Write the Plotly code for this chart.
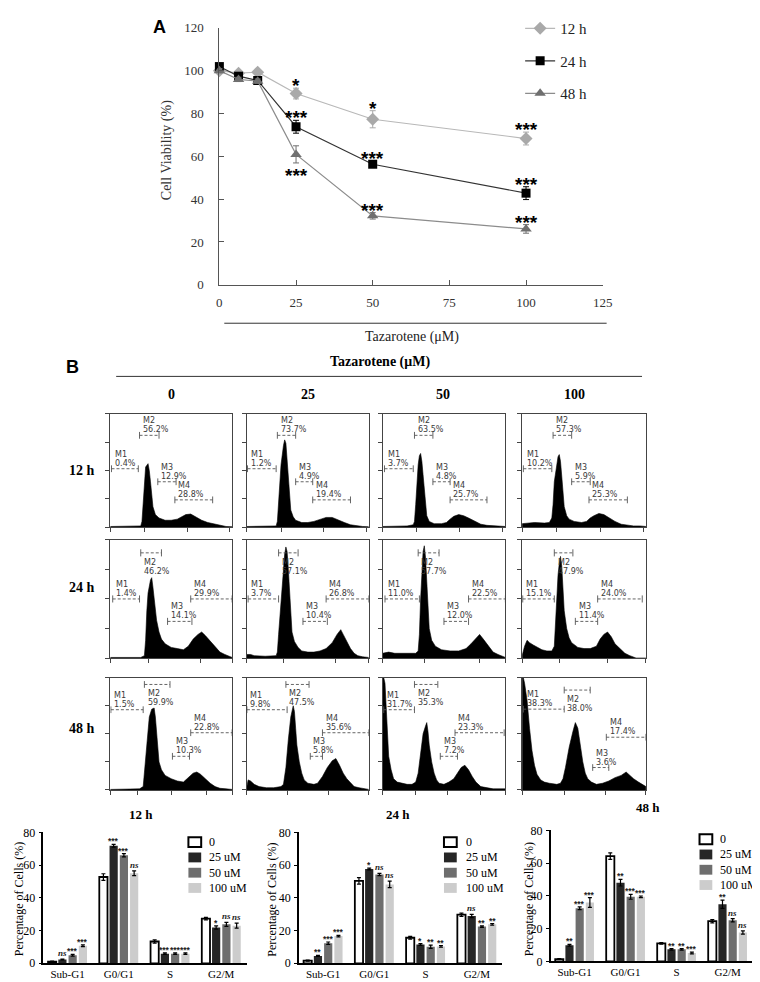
import plotly.graph_objects as go

W, H = 760, 982
SERIF = "Liberation Serif"
SANS = "Liberation Sans"
GATE_FONT = "DejaVu Sans"

# ---------------- Panel A: cell viability ----------------
DOSE_UM = [0, 6.25, 12.5, 25, 50, 100]
VIAB_12H = [100.0, 98.8, 99.3, 89.3, 77.3, 68.3]
VIAB_24H = [101.9, 97.4, 95.4, 73.8, 56.3, 42.8]
VIAB_48H = [100.0, 95.9, 95.1, 60.9, 32.2, 26.1]
ERR_12H = [1.0, 1.0, 1.0, 2.5, 4.0, 3.0]
ERR_24H = [1.0, 1.0, 1.0, 3.0, 1.5, 3.0]
ERR_48H = [1.0, 1.0, 1.0, 4.0, 1.5, 2.0]
SIG_12H = ["", "", "", "*", "*", "***"]
SIG_24H = ["", "", "", "***", "***", "***"]
SIG_48H = ["", "", "", "***", "***", "***"]

# ---------------- Panel B: DNA content histograms (channel %, count % of frame) ----------------
HIST_12H_0 = [(0, 0.5), (22, 0.5), (25, 1), (26, 5), (27, 25), (28, 45), (29, 53), (31, 56), (32, 50),
              (33, 40), (34, 28), (35, 18), (37, 11), (40, 8), (45, 6), (50, 6), (55, 7), (58, 9),
              (62, 11), (66, 11.5), (70, 9), (75, 6), (80, 4), (85, 3), (90, 2), (93, 1), (95, 0.5), (100, 0.3)]
HIST_12H_25 = [(0, 0.5), (20, 0.5), (24, 1), (25, 5), (26, 25), (28, 55), (30, 72), (31, 77), (32, 74),
               (33, 60), (34, 42), (35, 25), (36, 15), (38, 9), (40, 6), (45, 4), (50, 4), (55, 5),
               (60, 7), (65, 8.5), (70, 8.5), (75, 6), (80, 4), (85, 2), (90, 1), (95, 0.5), (100, 0.3)]
HIST_12H_50 = [(0, 0.5), (20, 1), (25, 2), (26, 5), (27, 20), (28, 40), (29, 55), (30, 63), (31, 65),
               (32, 58), (33, 45), (34, 30), (35, 18), (36, 10), (38, 5), (42, 3), (48, 3), (52, 4),
               (55, 7), (58, 9.5), (62, 11), (66, 10), (70, 8), (75, 5), (80, 2.5), (85, 1.5), (90, 1),
               (95, 0.8), (100, 0.5)]
HIST_12H_100 = [(0, 3), (10, 4), (18, 3.5), (22, 4), (24, 8), (25, 20), (26, 40), (28, 58), (29, 62),
                (30, 64), (31, 58), (32, 45), (33, 30), (34, 18), (36, 10), (38, 7), (42, 5), (48, 4),
                (52, 5), (55, 8), (58, 10), (62, 12), (66, 11), (70, 8), (75, 5), (80, 2.5), (85, 1.5),
                (90, 1), (95, 1), (100, 0.5)]
HIST_24H_0 = [(0, 0.5), (25, 0.5), (28, 2), (29, 15), (30, 40), (31, 55), (33, 66), (34, 68), (35, 60),
              (36, 50), (37, 40), (38, 32), (40, 22), (42, 16), (45, 12), (50, 9), (55, 8), (60, 7),
              (64, 10), (68, 16), (72, 20), (75, 22), (78, 19), (82, 14), (86, 9), (90, 5), (94, 3),
              (97, 1.5), (100, 0.5)]
HIST_24H_25 = [(0, 3), (3, 3), (6, 2), (15, 1.5), (24, 2), (25, 5), (26, 20), (28, 50), (30, 75), (31, 88),
               (32, 94), (33, 90), (34, 75), (35, 55), (36, 35), (37, 22), (39, 14), (42, 9), (45, 6),
               (50, 5), (55, 5), (60, 6), (65, 8), (70, 13), (74, 20), (77, 24), (79, 20), (82, 14),
               (85, 8), (88, 4), (91, 2), (95, 1), (100, 0.5)]
HIST_24H_50 = [(0, 4), (5, 5), (10, 4), (20, 4), (27, 4), (29, 6), (30, 20), (31, 50), (32, 75), (33, 90),
               (34, 95), (35, 85), (36, 65), (37, 40), (38, 25), (40, 15), (43, 10), (48, 7), (55, 6),
               (62, 6), (68, 8), (72, 12), (76, 17), (79, 20), (82, 16), (86, 10), (90, 5), (94, 3),
               (97, 1.5), (100, 0.5)]
HIST_24H_100 = [(0, 2), (2, 10), (4, 15), (6, 13), (9, 11), (12, 9), (16, 7), (20, 6), (24, 6), (26, 10),
                (27, 30), (28, 55), (29, 70), (30, 80), (31, 86), (32, 78), (33, 60), (34, 40), (36, 25),
                (38, 17), (40, 13), (45, 9), (50, 8), (55, 8), (60, 10), (63, 16), (66, 20), (69, 22),
                (72, 18), (75, 12), (79, 8), (83, 4), (87, 2), (90, 1), (92, 0), (100, 0)]
HIST_48H_0 = [(0, 0.5), (20, 0.5), (24, 1), (27, 3), (28, 15), (30, 45), (32, 65), (34, 72), (36, 73),
              (37, 65), (38, 50), (39, 35), (40, 25), (42, 18), (45, 13), (50, 10), (55, 8), (60, 7),
              (65, 12), (68, 15), (71, 16), (74, 14), (78, 10), (82, 6), (86, 3), (90, 1.5), (95, 1),
              (100, 0.5)]
HIST_48H_25 = [(0, 3), (1, 9), (3, 8), (6, 5), (10, 3), (16, 2), (22, 2), (28, 3), (30, 5), (32, 20),
               (34, 45), (36, 65), (38, 75), (39, 70), (40, 55), (41, 40), (43, 25), (45, 15), (47, 9),
               (50, 6), (55, 5), (58, 6), (62, 12), (66, 20), (70, 26), (73, 28), (76, 22), (79, 15),
               (82, 10), (85, 6), (88, 3), (92, 2), (96, 1), (100, 0.5)]
HIST_48H_50 = [(0, 100), (1, 100), (2, 95), (3, 70), (4, 45), (5, 30), (7, 18), (9, 10), (12, 7), (16, 6),
               (20, 5), (24, 5), (27, 7), (29, 15), (31, 35), (33, 50), (35, 57), (36, 60), (37, 52),
               (38, 40), (40, 25), (42, 15), (44, 9), (46, 6), (50, 5), (54, 7), (58, 10), (61, 15),
               (64, 20), (67, 22), (70, 18), (73, 12), (76, 7), (80, 3), (85, 2), (90, 1), (100, 1)]
HIST_48H_100 = [(0, 100), (1, 100), (2, 95), (4, 80), (6, 55), (8, 35), (10, 22), (12, 14), (15, 9),
                (18, 7), (22, 6), (28, 5), (31, 6), (33, 10), (35, 20), (38, 38), (41, 52), (43, 60),
                (45, 55), (47, 40), (49, 25), (51, 15), (53, 10), (56, 7), (60, 5), (65, 6), (70, 8),
                (75, 11), (80, 13), (84, 16), (87, 13), (90, 10), (94, 7), (97, 5), (100, 3)]

HISTS = [
    [HIST_12H_0, HIST_12H_25, HIST_12H_50, HIST_12H_100],
    [HIST_24H_0, HIST_24H_25, HIST_24H_50, HIST_24H_100],
    [HIST_48H_0, HIST_48H_25, HIST_48H_50, HIST_48H_100],
]

# gate percentages M1..M4
GATE_PCT_12H = [["0.4%", "56.2%", "12.9%", "28.8%"], ["1.2%", "73.7%", "4.9%", "19.4%"],
                ["3.7%", "63.5%", "4.8%", "25.7%"], ["10.2%", "57.3%", "5.9%", "25.3%"]]
GATE_PCT_24H = [["1.4%", "46.2%", "14.1%", "29.9%"], ["3.7%", "57.1%", "10.4%", "26.8%"],
                ["11.0%", "57.7%", "12.0%", "22.5%"], ["15.1%", "47.9%", "11.4%", "24.0%"]]
GATE_PCT_48H = [["1.5%", "59.9%", "10.3%", "22.8%"], ["9.8%", "47.5%", "5.8%", "35.6%"],
                ["31.7%", "35.3%", "7.2%", "23.3%"], ["38.3%", "38.0%", "3.6%", "17.4%"]]
GATE_PCTS = [GATE_PCT_12H, GATE_PCT_24H, GATE_PCT_48H]

# gate channel ranges (% of axis)
GATE_RANGES = [
    [[(1, 23), (24, 40), (39, 54), (53, 84)], [(0.5, 24), (25, 40), (40, 54), (54, 85)],
     [(1.6, 25), (26, 41), (41, 55), (55, 85)], [(1, 24), (25, 40), (40, 55), (54, 85)]],
    [[(2, 24), (25, 42), (47, 67), (66, 100)], [(1, 26), (26, 42), (46, 66), (65, 100)],
     [(2, 30), (29, 46), (50, 70), (70, 100)], [(0.5, 26), (26, 41), (43, 61), (61, 97)]],
    [[(0.5, 27), (28, 49), (51, 65), (66, 100)], [(0, 33), (32, 51), (52, 62), (62, 100)],
     [(1, 26), (26, 45), (47, 61), (59, 99)], [(1, 34), (34, 55), (57, 70), (68, 100)]],
]

# ---------------- Panel B: phase distribution bars ----------------
PHASES = ["Sub-G1", "G0/G1", "S", "G2/M"]
DOSES = ["0", "25 uM", "50 uM", "100 uM"]
CELLS_12H = [[1.0, 52.7, 13.3, 27.3], [2.3, 71.8, 5.9, 21.9], [4.9, 66.0, 5.9, 23.8], [10.7, 55.0, 5.9, 23.0]]
ERRS_12H = [[0.3, 2.0, 1.0, 0.8], [0.3, 0.8, 0.5, 1.0], [0.5, 1.0, 0.5, 1.2], [0.5, 1.5, 0.5, 1.5]]
STARS_12H = [["", "", "", ""], ["ns", "***", "***", "*"], ["***", "***", "***", "ns"], ["***", "ns", "***", "ns"]]
CELLS_24H = [[1.6, 50.3, 15.6, 29.7], [4.5, 57.6, 11.5, 28.9], [12.3, 54.2, 10.1, 22.4], [16.6, 48.2, 10.3, 23.8]]
ERRS_24H = [[0.3, 2.0, 0.8, 1.0], [0.3, 0.5, 0.5, 1.0], [0.7, 0.7, 1.0, 0.5], [0.5, 2.0, 0.5, 0.5]]
STARS_24H = [["", "", "", ""], ["**", "*", "*", "ns"], ["***", "ns", "**", "**"], ["***", "ns", "**", "**"]]
CELLS_48H = [[1.4, 64.3, 11.0, 24.5], [9.8, 48.0, 7.3, 34.9], [32.4, 39.4, 7.3, 25.1], [35.9, 39.4, 5.1, 17.6]]
ERRS_48H = [[0.3, 2.0, 0.5, 1.0], [0.5, 2.0, 0.5, 2.5], [0.8, 1.5, 0.5, 1.0], [3.0, 0.5, 0.5, 1.0]]
STARS_48H = [["", "", "", ""], ["**", "**", "**", "**"], ["***", "***", "**", "ns"], ["***", "***", "***", "ns"]]

# ---------------- layout config (pixels) ----------------
COL_X = [(101, 225), (240, 364), (378, 503), (520, 646)]
ROW_Y = [(405, 520), (533, 653), (673, 787)]
HIST_XTICKS = [
    [[0, 28, 63, 98], [0, 28, 63, 98], [0, 28, 63, 98], [0, 28, 63, 98]],
    [[0, 31, 74, 100], [0, 30, 73, 100], [0, 34, 79, 100], [0, 30, 69, 100]],
    [[0, 22, 50, 79, 100], [0, 33, 67, 100], [0, 27, 53, 80, 100], [0, 34, 67, 100]],
]
GATE_LEVELS = [
    [[51.5, 81, 40, 24]] * 4,
    [[50, 89, 31, 50]] * 4,
    [[71.5, 94, 30, 51], [71.5, 94, 30, 51], [71.5, 94, 30, 51], [72, 89, 20, 47]],
]
GATE_LABEL_BELOW = [[False] * 4, [False, True, False, False], [False, True, False, False]]
BAR_BOX = [((33, 240), (830, 963)), ((293, 500), (830, 963)), ((549, 755), (828, 961))]
BAR_COLORS = ["white", "#262626", "#6e6e6e", "#cccccc"]


def fx(p):
    return p / W


def fy(p):
    return 1 - p / H


def label(px, py, text, size, family=SERIF, color="black", angle=0, xanchor="center"):
    # paper-positioned text, centred on the given pixel spot
    return dict(x=fx(px), y=fy(py), xref="paper", yref="paper", text=text, textangle=angle,
                xanchor=xanchor, yanchor="middle", showarrow=False,
                font=dict(family=family, size=size, color=color))


fig = go.Figure()
layout = {}
ann = []
shp = []

# ---------------- Panel A ----------------
series_a = [
    ("12 h", VIAB_12H, ERR_12H, SIG_12H, "diamond", 10, "#a9a9a9", "#b8b8b8"),
    ("24 h", VIAB_24H, ERR_24H, SIG_24H, "square", 9, "#000000", "#333333"),
    ("48 h", VIAB_48H, ERR_48H, SIG_48H, "triangle-up", 10, "#6f6f6f", "#8c8c8c"),
]
for name, vals, errs, sigs, sym, size, mcol, lcol in series_a:
    fig.add_trace(go.Scatter(
        x=DOSE_UM, y=vals, name=name, mode="lines+markers", legendgroup=name,
        marker=dict(symbol=sym, size=size, color=mcol),
        line=dict(color=lcol, width=1.2),
        error_y=dict(type="data", array=errs, color=mcol, thickness=1, width=3),
        cliponaxis=False, xaxis="x", yaxis="y", hoverinfo="skip",
    ))
    for d, v, e, s in zip(DOSE_UM, vals, errs, sigs):
        if not s:
            continue
        below = name == "48 h" and d == 25
        ann.append(dict(x=d, y=v - e if below else v + e, xref="x", yref="y", text=f"<b>{s}</b>",
                        showarrow=False, xanchor="center", yanchor="top" if below else "bottom",
                        yshift=0 if below else -10,
                        font=dict(family=SANS, size=19, color="black")))

layout["xaxis"] = dict(domain=[fx(212), fx(602)], range=[0, 125], tickvals=[0, 25, 50, 75, 100, 125],
                       showline=True, linecolor="#555", linewidth=1, ticks="inside", ticklen=5,
                       tickcolor="#555", showgrid=False, zeroline=False, ticklabelstandoff=6,
                       tickfont=dict(family=SERIF, size=13, color="#333"), anchor="y")
layout["yaxis"] = dict(domain=[fy(274), fy(13)], range=[0, 120], dtick=20,
                       showline=True, linecolor="#555", linewidth=1, ticks="inside", ticklen=5,
                       tickcolor="#555", showgrid=False, zeroline=False, ticklabelstandoff=12,
                       tickfont=dict(family=SERIF, size=13, color="#333"), anchor="x")
ann.append(label(159, 137, "Cell Viability (%)", 14, color="#333", angle=-90))
ann.append(label(151, 12, "<b>A</b>", 18, family=SANS))
shp.append(dict(type="line", xref="paper", yref="paper", x0=fx(217), x1=fx(606), y0=fy(313), y1=fy(313),
                line=dict(color="#333", width=1)))
ann.append(label(408, 327, "Tazarotene (\u03bcM)", 14, color="#222"))

# ---------------- Panel B header ----------------
ann.append(label(63, 357, "<b>B</b>", 18, family=SANS))
ann.append(label(375, 352, "<b>Tazarotene (\u03bcM)</b>", 14))
shp.append(dict(type="line", xref="paper", yref="paper", x0=fx(107), x1=fx(642), y0=fy(367), y1=fy(367),
                line=dict(color="#333", width=1)))
for lab, xc in zip(["0", "25", "50", "100"], [163, 302, 440, 573]):
    ann.append(label(xc, 385, f"<b>{lab}</b>", 14))
for lab, yc in zip(["12 h", "24 h", "48 h"], [463, 581, 725]):
    ann.append(label(72, yc, f"<b>{lab}</b>", 14))

# ---------------- histograms ----------------
gate_font = dict(family=GATE_FONT, size=8, color="#3a3a3a")
for r in range(3):
    for c in range(4):
        k = 2 + r * 4 + c
        xs, ys = zip(*HISTS[r][c])
        fig.add_trace(go.Scatter(
            x=xs, y=ys, mode="lines", fill="tozeroy", fillcolor="black",
            line=dict(color="black", width=0.6), xaxis=f"x{k}", yaxis=f"y{k}",
            showlegend=False, hoverinfo="skip",
        ))
        gx, gy, tx, ty = [], [], [], []
        for g, (a, b) in enumerate(GATE_RANGES[r][c]):
            h = GATE_LEVELS[r][c][g]
            gx += [a, b, None]
            gy += [h, h, None]
            tx += [a, a, None, b, b, None]
            ty += [h - 3, h + 3, None, h - 3, h + 3, None]
            if GATE_LABEL_BELOW[r][g]:
                lines = [(f"M{g + 1}", -3), (GATE_PCTS[r][c][g], -12)]
                anchor = "top"
            else:
                lines = [(GATE_PCTS[r][c][g], -1), (f"M{g + 1}", 8)]
                anchor = "bottom"
            for txt, shift in lines:
                ann.append(dict(x=a + 1, y=h, xref=f"x{k}", yref=f"y{k}", text=txt,
                                xanchor="left", yanchor=anchor, yshift=shift, showarrow=False,
                                font=gate_font))
        fig.add_trace(go.Scatter(x=gx, y=gy, mode="lines", line=dict(color="#555", width=0.9, dash="3px,2px"),
                                 xaxis=f"x{k}", yaxis=f"y{k}", showlegend=False, hoverinfo="skip",
                                 cliponaxis=False))
        fig.add_trace(go.Scatter(x=tx, y=ty, mode="lines", line=dict(color="#555", width=0.9),
                                 xaxis=f"x{k}", yaxis=f"y{k}", showlegend=False, hoverinfo="skip",
                                 cliponaxis=False))
        layout[f"xaxis{k}"] = dict(domain=[fx(COL_X[c][0]), fx(COL_X[c][1])], range=[0, 100],
                                   tickvals=HIST_XTICKS[r][c], ticks="outside", ticklen=4,
                                   showticklabels=False, showline=True, mirror=True, linecolor="#444",
                                   linewidth=1, tickcolor="#444", showgrid=False, zeroline=False,
                                   anchor=f"y{k}")
        layout[f"yaxis{k}"] = dict(domain=[fy(ROW_Y[r][1]), fy(ROW_Y[r][0])], range=[0, 100],
                                   tickvals=[0, 25, 50, 75, 100], ticks="outside", ticklen=4,
                                   showticklabels=False, showline=True, mirror=True, linecolor="#444",
                                   linewidth=1, tickcolor="#444", showgrid=False, zeroline=False,
                                   anchor=f"x{k}")

# ---------------- bar charts ----------------
bar_sets = [
    ("12 h", CELLS_12H, ERRS_12H, STARS_12H, (132, 812), 187, 199, 840, 8),
    ("24 h", CELLS_24H, ERRS_24H, STARS_24H, (394, 812), 447, 461, 840, 266),
    ("48 h", CELLS_48H, ERRS_48H, STARS_48H, (648, 805), 707, 719, 837, 527),
]
xcat = list(range(len(PHASES)))
for j, (title, cells, errs, stars, tpos, swx, txx, ly0, ylx) in enumerate(bar_sets):
    k = 14 + j
    for d, dose in enumerate(DOSES):
        fig.add_trace(go.Bar(
            x=xcat, y=cells[d], name=dose, showlegend=False,
            marker=dict(color=BAR_COLORS[d], line=dict(color="black", width=1.8 if d == 0 else 0)),
            error_y=dict(type="data", array=errs[d], color="black", thickness=1.2, width=2),
            xaxis=f"x{k}", yaxis=f"y{k}", hoverinfo="skip",
        ))
        for p in xcat:
            s = stars[d][p]
            if not s:
                continue
            italic = s == "ns"
            ann.append(dict(x=p + (d - 1.5) * 0.2, y=cells[d][p] + errs[d][p], xref=f"x{k}", yref=f"y{k}",
                            text=f"<b><i>{s}</i></b>" if italic else f"<b>{s}</b>",
                            showarrow=False, xanchor="center", yanchor="bottom",
                            yshift=-4 if not italic else -1,
                            font=dict(family=SERIF if italic else SANS, size=9 if italic else 8.5,
                                      color="#222")))
        # legend entry
        yc = ly0 + d * 15.5
        shp.append(dict(type="rect", xref="paper", yref="paper", x0=fx(swx - 6.5), x1=fx(swx + 6.5),
                        y0=fy(yc + 5), y1=fy(yc - 5), fillcolor=BAR_COLORS[d],
                        line=dict(color="black", width=2 if d == 0 else 0)))
        ann.append(label(txx, yc, dose, 12, xanchor="left"))
    (x0, x1), (y0, y1) = BAR_BOX[j]
    layout[f"xaxis{k}"] = dict(domain=[fx(x0), fx(x1)], range=[-0.47, 3.5], tickvals=xcat, ticktext=PHASES,
                               ticks="", showline=True, linecolor="black", linewidth=1.5, showgrid=False,
                               zeroline=False, ticklabelstandoff=0,
                               tickfont=dict(family=SERIF, size=11, color="black"), anchor=f"y{k}")
    layout[f"yaxis{k}"] = dict(domain=[fy(y1), fy(y0)], range=[0, 80], tickvals=[0, 20, 40, 60, 80],
                               ticks="outside", ticklen=3, showline=True, linecolor="black", linewidth=1.5,
                               tickcolor="black", showgrid=False, zeroline=False, ticklabelstandoff=1,
                               tickfont=dict(family=SERIF, size=12, color="black"), anchor=f"x{k}")
    ann.append(label(tpos[0], tpos[1], f"<b>{title}</b>", 13))
    ann.append(label(ylx, 898, "Percentage of Cells (%)", 12, angle=-90))

fig.update_layout(
    width=W, height=H,
    margin=dict(l=0, r=0, t=0, b=0),
    paper_bgcolor="white", plot_bgcolor="white",
    font=dict(family=SERIF, size=12, color="black"),
    barmode="group", bargap=0.2, bargroupgap=0.2,
    showlegend=True,
    legend=dict(x=fx(518), y=fy(-3), xanchor="left", yanchor="top", bgcolor="rgba(0,0,0,0)",
                font=dict(family=SERIF, size=15, color="#222"), tracegroupgap=10, itemwidth=30),
    annotations=ann, shapes=shp,
    **layout,
)

fig.write_html("out.html")
